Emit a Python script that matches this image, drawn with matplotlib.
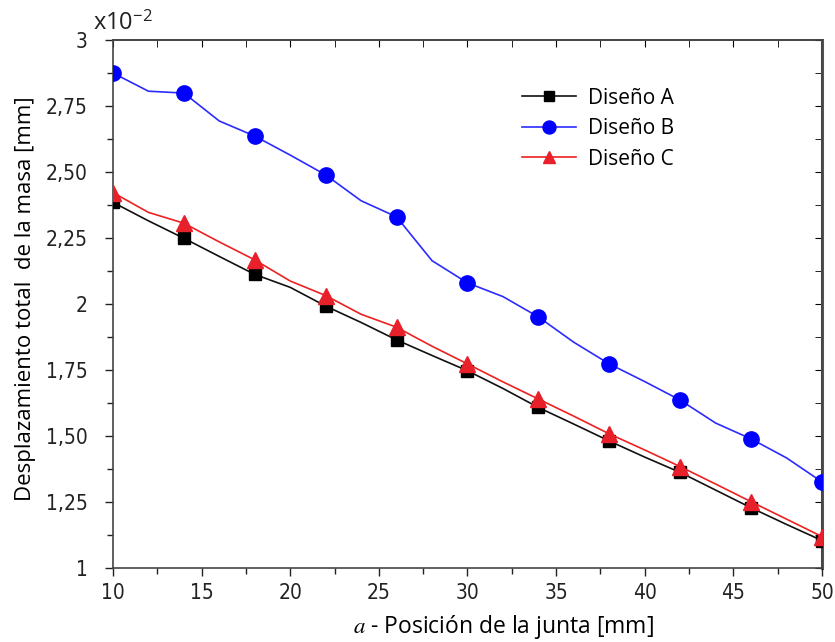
import matplotlib
matplotlib.use("Agg")
import matplotlib.pyplot as plt
import matplotlib.ticker as mticker

plt.rcParams["font.family"] = ["DejaVu Sans"]
plt.rcParams["font.stretch"] = "condensed"
plt.rcParams["mathtext.fontset"] = "stix"

# joint position [mm]; markers are drawn on every second sample
pos = [10, 12, 14, 16, 18, 20, 22, 24, 26, 28, 30,
       32, 34, 36, 38, 40, 42, 44, 46, 48, 50]

# total mass displacement, in units of 1e-2 mm
disp_a = [2.385, 2.315, 2.249, 2.180, 2.112, 2.063, 1.992, 1.930, 1.864, 1.805, 1.747,
          1.680, 1.608, 1.545, 1.481, 1.420, 1.362, 1.295, 1.228, 1.165, 1.104]
disp_b = [2.875, 2.806, 2.799, 2.693, 2.636, 2.564, 2.489, 2.391, 2.330, 2.164, 2.080,
          2.028, 1.951, 1.855, 1.773, 1.706, 1.636, 1.549, 1.489, 1.417, 1.326]
disp_c = [2.422, 2.347, 2.306, 2.235, 2.167, 2.087, 2.032, 1.961, 1.912, 1.840, 1.773,
          1.705, 1.640, 1.575, 1.508, 1.447, 1.384, 1.318, 1.251, 1.185, 1.119]

labels = ["Diseño A", "Diseño B", "Diseño C"]

fig = plt.figure(figsize=(8.35, 6.42), dpi=100)
ax = fig.add_axes([0.1353, 0.1153, 0.8491, 0.8224])

ax.plot(pos, disp_a, color="#111111", lw=1.2, marker="s", ms=9,
        markevery=2, mfc="black", mec="black", label=labels[0], zorder=3)
ax.plot(pos, disp_b, color="#2b2bff", lw=1.2, marker="o", ms=11,
        markevery=2, mfc="#0000ff", mec="#0000ff", label=labels[1], zorder=3)
ax.plot(pos, disp_c, color="#ee2020", lw=1.2, marker="^", ms=11,
        markevery=2, mfc="#e8202a", mec="#e8202a", label=labels[2], zorder=4)

ax.set_xlim(10, 50)
ax.set_ylim(1, 3)
ax.xaxis.set_major_locator(mticker.MultipleLocator(5))
ax.xaxis.set_minor_locator(mticker.MultipleLocator(2.5))
ax.yaxis.set_major_locator(mticker.MultipleLocator(0.25))
ax.yaxis.set_minor_locator(mticker.MultipleLocator(0.125))


def comma_fmt(v, _):
    if abs(v - round(v)) < 1e-9:
        return f"{int(round(v))}"
    return f"{v:.2f}".replace(".", ",")


ax.yaxis.set_major_formatter(mticker.FuncFormatter(comma_fmt))

ax.tick_params(which="both", direction="out", top=False, right=False,
               labelsize=15, colors="#222222")
ax.tick_params(which="major", length=6, width=1.0)
ax.tick_params(which="minor", length=4, width=1.0)
ax.tick_params(axis="x", pad=5)
ax.tick_params(axis="y", pad=12)

# inward mirror ticks on top and right
top = ax.secondary_xaxis("top")
top.xaxis.set_major_locator(mticker.MultipleLocator(5))
top.xaxis.set_minor_locator(mticker.MultipleLocator(2.5))
top.tick_params(which="both", direction="in", labeltop=False, length=5)
right = ax.secondary_yaxis("right")
right.yaxis.set_major_locator(mticker.MultipleLocator(0.25))
right.yaxis.set_minor_locator(mticker.MultipleLocator(0.125))
right.tick_params(which="both", direction="in", labelright=False, length=5)

for sp in list(ax.spines.values()):
    sp.set_color("#444444")
    sp.set_linewidth(1.2)
top.spines["top"].set_color("#444444")
top.spines["top"].set_linewidth(1.2)
right.spines["right"].set_color("#555555")
right.spines["right"].set_linewidth(2.2)

label_font = ["Open Sans", "DejaVu Sans"]
ax.set_xlabel(r"$a$ - Posición de la junta [mm]", fontsize=16.5,
              family=label_font, stretch="normal")
ax.xaxis.set_label_coords(0.551, -0.085)
ax.set_ylabel("Desplazamiento total  de la masa [mm]", fontsize=16,
              family=label_font, stretch="normal")
ax.yaxis.set_label_coords(-0.108, 0.51)

fig.text(0.111, 0.953, r"x10$^{\mathregular{-2}}$", fontsize=17,
         family=label_font, stretch="normal", color="#222222")

leg = ax.legend(loc="upper left", bbox_to_anchor=(0.55, 0.945), frameon=False,
                handlelength=2.6, handletextpad=0.6, labelspacing=0.45,
                markerscale=0.85,
                prop={"family": label_font, "size": 15, "stretch": "normal"})

fig.savefig("out.png", dpi=100)
